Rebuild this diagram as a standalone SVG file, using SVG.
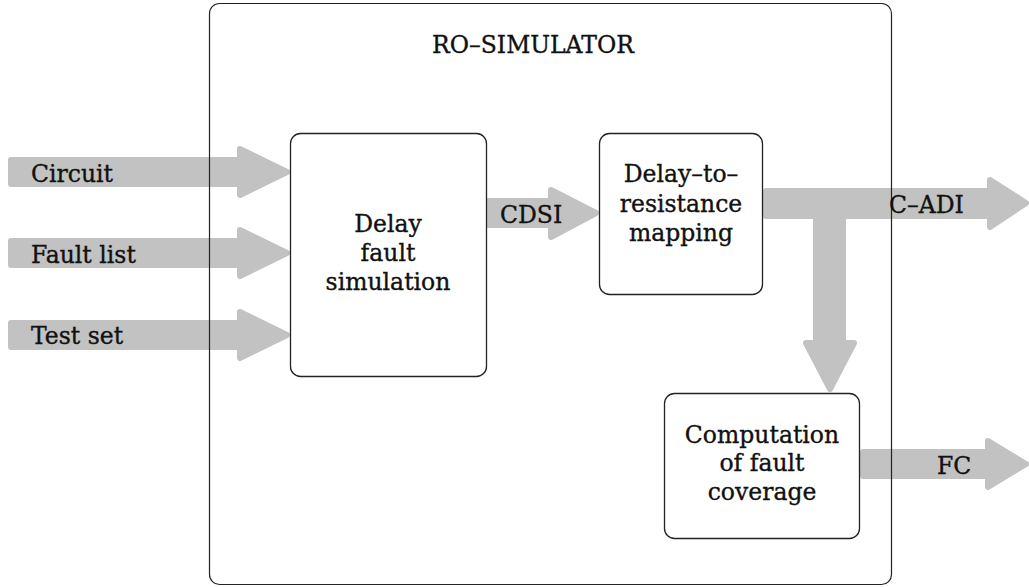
<svg xmlns="http://www.w3.org/2000/svg" width="1029" height="587" viewBox="0 0 1029 587">
  <style>
    text { font-family: "DejaVu Serif", "Liberation Serif", serif; font-size: 23.5px; fill: #111; stroke: #111; stroke-width: 0.35; }
    .c { text-anchor: middle; }
    .flow { fill: #c2c2c2; stroke: #c2c2c2; stroke-width: 6; stroke-linejoin: round; }
    .block { fill: #ffffff; stroke: #222; stroke-width: 1.3; }
    .frame { fill: none; stroke: #222; stroke-width: 1.2; }
  </style>
  <rect width="1029" height="587" fill="#ffffff"/>

  <!-- wide block arrows -->
  <g id="connectors">
    <polygon class="flow" points="11,160 240,160 240,149 287,172 240,195 240,184 11,184"/>
    <polygon class="flow" points="11,241 240,241 240,230 287,253 240,276 240,265 11,265"/>
    <polygon class="flow" points="11,323 240,323 240,312 287,335 240,358 240,347 11,347"/>
    <polygon class="flow" points="488,201 551,201 551,190 596,213 551,237 551,225 488,225"/>
    <polygon class="flow" points="766,191 990,191 990,180 1026,203 990,227 990,216 843,216 843,343 854,343 830,389 806,343 816,343 816,216 766,216"/>
    <polygon class="flow" points="863,452 988,452 988,441 1026,464 988,487 988,476 863,476"/>
  </g>

  <!-- enclosing simulator frame -->
  <g id="ro-simulator">
    <rect class="frame" x="209.5" y="3.5" width="682" height="581" rx="10"/>
    <text class="c" x="533" y="53">RO–SIMULATOR</text>
  </g>

  <g id="delay-fault-simulation">
    <rect class="block" x="290.5" y="133.5" width="196" height="243" rx="10"/>
    <text class="c" x="388" y="232">Delay</text>
    <text class="c" x="388" y="261">fault</text>
    <text class="c" x="388" y="290">simulation</text>
  </g>

  <g id="delay-to-resistance">
    <rect class="block" x="599.5" y="133.5" width="163" height="161" rx="10"/>
    <text class="c" x="681" y="182">Delay–to–</text>
    <text class="c" x="681" y="212">resistance</text>
    <text class="c" x="681" y="241">mapping</text>
  </g>

  <g id="fault-coverage">
    <rect class="block" x="664.5" y="393.5" width="195" height="145" rx="10"/>
    <text class="c" x="762" y="443">Computation</text>
    <text class="c" x="762" y="471">of fault</text>
    <text class="c" x="762" y="500">coverage</text>
  </g>

  <!-- arrow labels -->
  <g id="labels">
    <text x="31" y="182">Circuit</text>
    <text x="31" y="263">Fault list</text>
    <text x="31" y="344">Test set</text>
    <text x="500" y="223">CDSI</text>
    <text x="889" y="213">C–ADI</text>
    <text x="937" y="474">FC</text>
  </g>
</svg>
